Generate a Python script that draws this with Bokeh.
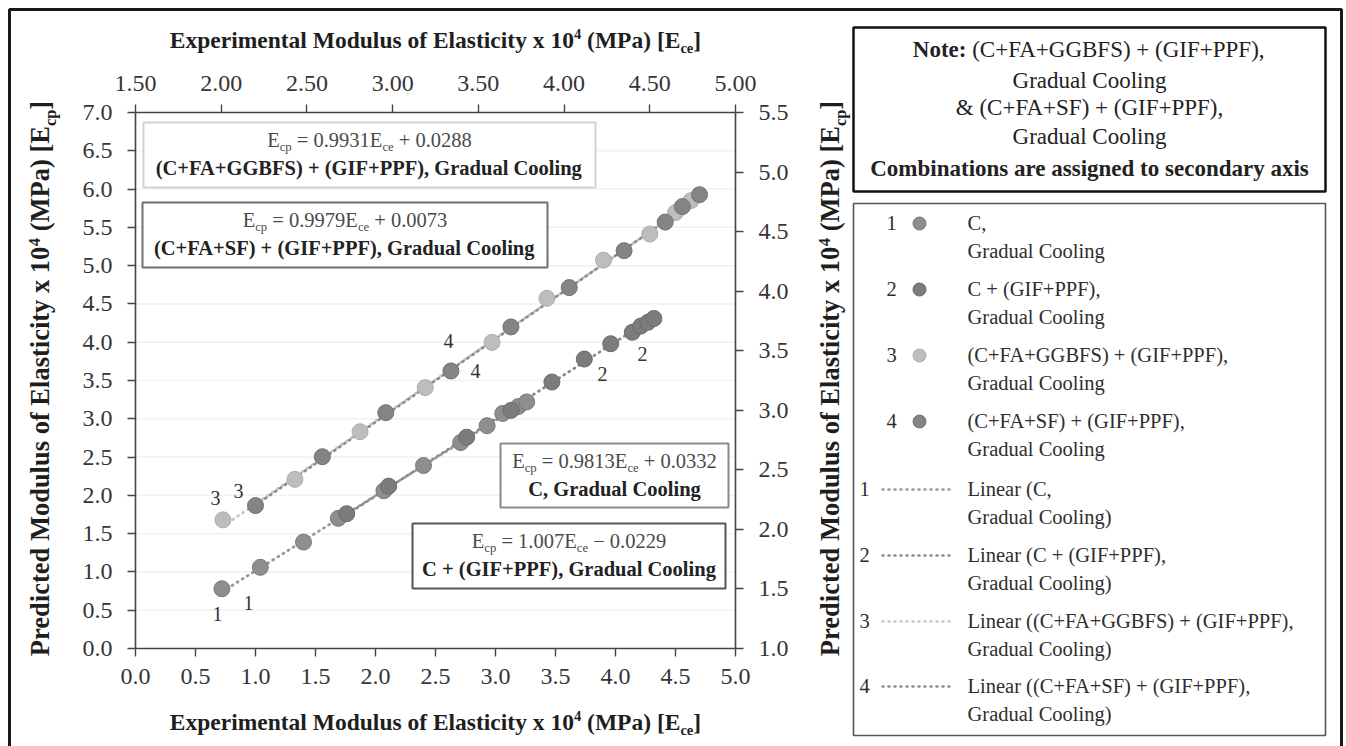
import numpy as np
from bokeh.plotting import figure
from bokeh.models import Range1d, LinearAxis, Label, FixedTicker, NumeralTickFormatter
from bokeh.embed import file_html
from bokeh.resources import INLINE
from bokeh.core.properties import value

# ---------------- data ----------------
# Series 1 & 2 : primary axes (bottom x 0-5, left y 0-7)
s1_x = [0.72, 1.04, 1.40, 1.69, 2.07, 2.40, 2.71, 2.93, 3.06, 3.19, 3.26]
s1_y = [0.78, 1.06, 1.39, 1.70, 2.06, 2.39, 2.69, 2.91, 3.07, 3.16, 3.22]
s2_x = [1.76, 2.11, 2.76, 3.13, 3.47, 3.74, 3.96, 4.14, 4.21, 4.27, 4.32]
s2_y = [1.76, 2.12, 2.76, 3.11, 3.48, 3.78, 3.98, 4.13, 4.21, 4.26, 4.31]
# Series 3 & 4 : secondary axes (top x 1.5-5.0, right y 1.0-5.5)
s3_x = [2.01, 2.43, 2.81, 3.19, 3.58, 3.90, 4.23, 4.50, 4.65, 4.74]
s3_y = [2.08, 2.42, 2.82, 3.19, 3.57, 3.94, 4.26, 4.48, 4.66, 4.76]
s4_x = [2.20, 2.59, 2.96, 3.34, 3.69, 4.03, 4.35, 4.59, 4.69, 4.79]
s4_y = [2.20, 2.61, 2.98, 3.33, 3.70, 4.03, 4.34, 4.58, 4.71, 4.81]

slopes = [0.9813, 1.007, 0.9931, 0.9979]
intercepts = [0.0332, -0.0229, 0.0288, 0.0073]

series_labels = ["C,", "C + (GIF+PPF),", "(C+FA+GGBFS) + (GIF+PPF),", "(C+FA+SF) + (GIF+PPF),"]
box_titles = ["C, Gradual Cooling", "C + (GIF+PPF), Gradual Cooling",
              "(C+FA+GGBFS) + (GIF+PPF), Gradual Cooling", "(C+FA+SF) + (GIF+PPF), Gradual Cooling"]
trend_labels = ["Linear (C,", "Linear (C + (GIF+PPF),", "Linear ((C+FA+GGBFS) + (GIF+PPF),",
                "Linear ((C+FA+SF) + (GIF+PPF),"]
note_lines = ["(C+FA+GGBFS) + (GIF+PPF),", "Gradual Cooling", "& (C+FA+SF) + (GIF+PPF),",
              "Gradual Cooling", "Combinations are assigned to secondary axis"]

bottom_ticks = [0.0, 0.5, 1.0, 1.5, 2.0, 2.5, 3.0, 3.5, 4.0, 4.5, 5.0]
top_ticks = [1.5, 2.0, 2.5, 3.0, 3.5, 4.0, 4.5, 5.0]
left_ticks = [0.0, 0.5, 1.0, 1.5, 2.0, 2.5, 3.0, 3.5, 4.0, 4.5, 5.0, 5.5, 6.0, 6.5, 7.0]
right_ticks = [1.0, 1.5, 2.0, 2.5, 3.0, 3.5, 4.0, 4.5, 5.0, 5.5]

# ---------------- styles ----------------
FONT = "Liberation Serif"
marker_colors = ["#8e8e8e", "#7c7c7c", "#bdbdbd", "#848484"]
marker_lines = ["#7a7a7a", "#6a6a6a", "#adadad", "#727272"]
trend_colors = ["#9a9a9a", "#8a8a8a", "#c6c6c6", "#8c8c8c"]
box_borders = ["#8a8a8a", "#555555", "#d2d2d2", "#707070"]

# Times metrics (Liberation Serif is metric compatible)
TR = {' ': 250, '(': 333, ')': 333, '+': 564, ',': 250, '-': 333, '.': 250, ':': 278, '=': 564,
      '[': 333, ']': 333, '&': 778, '\u2212': 564,
      'A': 722, 'B': 667, 'C': 667, 'D': 722, 'E': 611, 'F': 556, 'G': 722, 'H': 722, 'I': 333,
      'L': 611, 'M': 889, 'N': 722, 'O': 722, 'P': 556, 'S': 556, 'T': 611,
      'a': 444, 'b': 500, 'c': 444, 'd': 500, 'e': 444, 'f': 333, 'g': 500, 'h': 500, 'i': 278,
      'l': 278, 'm': 778, 'n': 500, 'o': 500, 'p': 500, 'r': 333, 's': 389, 't': 278, 'u': 500,
      'x': 500, 'y': 500}
TB = {' ': 250, '(': 333, ')': 333, '+': 570, ',': 250, '-': 333, '.': 250, ':': 333, '=': 570,
      '[': 333, ']': 333, '&': 833,
      'A': 722, 'B': 667, 'C': 722, 'D': 722, 'E': 667, 'F': 611, 'G': 778, 'H': 778, 'I': 389,
      'L': 667, 'M': 944, 'N': 722, 'O': 778, 'P': 611, 'S': 556, 'T': 667,
      'a': 500, 'b': 556, 'c': 444, 'd': 556, 'e': 444, 'f': 333, 'g': 500, 'h': 556, 'i': 278,
      'l': 278, 'm': 833, 'n': 556, 'o': 500, 'p': 556, 'r': 444, 's': 389, 't': 333, 'u': 556,
      'x': 500, 'y': 500}


def tw(s, bold, size):
    tab = TB if bold else TR
    return sum(tab.get(ch, 500) for ch in s) / 1000.0 * size


# ---------------- canvas / scales ----------------
W, H = 1346, 746
FL, FR, FT, FB = 135, 735, 112, 648        # pixel box of the chart area
XMIN, XMAX, YMIN, YMAX = 0.0, 5.0, 0.0, 7.0
X2MIN, X2MAX, Y2MIN, Y2MAX = 1.5, 5.0, 1.0, 5.5
KB = 0.38   # baseline correction (em) for alphabetic labels


def X(px):
    return (px - FL) / (FR - FL) * (XMAX - XMIN) + XMIN


def Y(py):
    return (FB - py) / (FB - FT) * (YMAX - YMIN) + YMIN


def X2(px):
    return (px - FL) / (FR - FL) * (X2MAX - X2MIN) + X2MIN


def Y2(py):
    return (FB - py) / (FB - FT) * (Y2MAX - Y2MIN) + Y2MIN


p = figure(width=W, height=H, x_range=Range1d(X(0), X(W)), y_range=Range1d(Y(H), Y(0)),
           min_border=0, output_backend="svg", toolbar_location=None,
           background_fill_color="white", border_fill_color="white", outline_line_color=None)
p.extra_x_ranges = {"sec": Range1d(X2(0), X2(W))}
p.extra_y_ranges = {"sec": Range1d(Y2(H), Y2(0))}
p.grid.visible = False


def style_axis(ax, ticks, fmt, standoff):
    ax.ticker = FixedTicker(ticks=ticks)
    ax.formatter = NumeralTickFormatter(format=fmt)
    ax.major_label_text_font = FONT
    ax.major_label_text_font_size = "24px"
    ax.major_label_text_color = "#363636"
    ax.major_label_standoff = standoff
    ax.axis_line_color = "#444444"
    ax.axis_line_width = 1.6
    ax.major_tick_line_color = "#444444"
    ax.major_tick_line_width = 1.4
    ax.major_tick_out = 8
    ax.major_tick_in = 0
    ax.minor_tick_out = 0
    ax.minor_tick_in = 0


ax_b = p.xaxis[0]
style_axis(ax_b, bottom_ticks, "0.0", 12)
ax_b.fixed_location = YMIN
ax_b.bounds = (XMIN, XMAX)
ax_l = p.yaxis[0]
style_axis(ax_l, left_ticks, "0.0", 15)
ax_l.fixed_location = XMIN
ax_l.bounds = (YMIN, YMAX)
ax_top = LinearAxis(x_range_name="sec", fixed_location=YMAX, bounds=(X2MIN, X2MAX))
style_axis(ax_top, top_ticks, "0.00", 14)
p.add_layout(ax_top, "above")
ax_right = LinearAxis(y_range_name="sec", fixed_location=XMAX, bounds=(Y2MIN, Y2MAX))
style_axis(ax_right, right_ticks, "0.0", 15)
p.add_layout(ax_right, "right")

# faint horizontal gridlines
gy = [t for t in left_ticks if YMIN < t < YMAX]
p.segment(x0=[XMIN] * len(gy), x1=[XMAX] * len(gy), y0=gy, y1=gy, line_color="#f1f1f1", line_width=1.5)

# outer border (picture frame)
p.line(x=[X(9), X(9), X(1341), X(1341)], y=[Y(760), Y(9), Y(9), Y(760)], line_color="#1a1a1a",
       line_width=3)

# trendlines and points
xs_all = [s1_x, s2_x, s3_x, s4_x]
ys_all = [s1_y, s2_y, s3_y, s4_y]
for i in range(4):
    kw = {} if i < 2 else {"x_range_name": "sec", "y_range_name": "sec"}
    tx = [min(xs_all[i]), max(xs_all[i])]
    ty = [slopes[i] * v + intercepts[i] for v in tx]
    p.line(tx, ty, line_color=trend_colors[i], line_width=2.8, line_dash="1 5", line_cap="round", **kw)
for i in range(4):
    kw = {} if i < 2 else {"x_range_name": "sec", "y_range_name": "sec"}
    p.scatter(xs_all[i], ys_all[i], size=16, fill_color=marker_colors[i], line_color=marker_lines[i],
              line_width=1, **kw)


def add_label(px, py, text, size, bold, color, angle=0.0, align="left", baseline="alphabetic"):
    if baseline == "alphabetic":
        if angle:
            px -= KB * size
        else:
            py -= KB * size
    p.add_layout(Label(x=X(px), y=Y(py), text=text, text_font=FONT, angle=angle,
                       text_font_size=f"{size:.2f}px", text_font_style="bold" if bold else "normal",
                       text_color=color, text_align=align, text_baseline=baseline))


def rich(segs, size, color, c, base, rotated=False):
    widths = [tw(t, b, size * sc) for t, b, sc, sh in segs]
    total = sum(widths)
    pos = c - total / 2 if not rotated else c + total / 2
    for (t, b, sc, sh), w in zip(segs, widths):
        lead = tw(t[:len(t) - len(t.lstrip(' '))], b, size * sc)
        txt = t.strip(' ')
        if not rotated:
            add_label(pos + lead, base + sh * size, txt, size * sc, b, color)
            pos += w
        else:
            add_label(base + sh * size, pos - lead, txt, size * sc, b, color, angle=np.pi / 2)
            pos -= w


SUB = 0.22
SUP = -0.38


def title_segs(word, sub):
    return [(word + " Modulus of Elasticity x 10", True, 1, 0), ("4", True, 0.62, SUP),
            (" (MPa) [E", True, 1, 0), (sub, True, 0.62, SUB), ("]", True, 1, 0)]


rich(title_segs("Experimental", "ce"), 23.5, "#1e1e1e", (FL + FR) / 2, 48)
rich(title_segs("Experimental", "ce"), 23.5, "#1e1e1e", (FL + FR) / 2, 730)
rich(title_segs("Predicted", "cp"), 26.5, "#1e1e1e", 378, 50, rotated=True)
rich(title_segs("Predicted", "cp"), 26.5, "#1e1e1e", 378, 840, rotated=True)

# equation boxes: (left, top, right, bottom) in px
boxes = [(500, 443, 728, 507), (412, 523, 725, 588), (143, 122, 595, 187), (142, 202, 547, 267)]
for i in range(4):
    l, t, r, b = boxes[i]
    p.quad(left=[X(l)], right=[X(r)], top=[Y(t)], bottom=[Y(b)], fill_color="white",
           line_color=box_borders[i], line_width=2)
    sign = "+" if intercepts[i] >= 0 else "\u2212"
    segs = [("E", False, 1, 0), ("cp", False, 0.62, SUB),
            (f" = {slopes[i]}E", False, 1, 0), ("ce", False, 0.62, SUB),
            (f" {sign} {abs(intercepts[i]):.4f}", False, 1, 0)]
    cx = (l + r) / 2
    rich(segs, 20.5, "#4a4a4a", cx, t + 25)
    rich([(box_titles[i], True, 1, 0)], 20.5, "#222222", cx, t + 53)

# series number tags inside the chart
tags = [("1", 217, 613), ("1", 248, 602), ("3", 215, 497), ("3", 238, 490),
        ("4", 448, 340), ("4", 475, 370), ("2", 602, 373), ("2", 642, 353)]
for t, px, py in tags:
    add_label(px, py, t, 20, False, "#333333", align="center", baseline="middle")

# ---------------- right side: note box + legend ----------------
BL, BR = 853, 1325
p.quad(left=[X(BL)], right=[X(BR)], top=[Y(27)], bottom=[Y(191)], fill_color="white",
       line_color="#111111", line_width=2.5)
p.quad(left=[X(BL)], right=[X(BR)], top=[Y(203)], bottom=[Y(735)], fill_color="white",
       line_color="#555555", line_width=1.6)

NS = 23
ncx = (BL + BR) / 2
w_b = tw("Note: ", True, NS)
w_r = tw(note_lines[0], False, NS)
x0 = ncx - (w_b + w_r) / 2
add_label(x0, 58, "Note:", NS, True, "#222222")
add_label(x0 + w_b, 58, note_lines[0], NS, False, "#222222")
for txt, by in zip(note_lines[1:4], [89, 116, 145]):
    add_label(ncx, by, txt, NS, False, "#222222", align="center")
add_label(ncx, 177, note_lines[4], NS, True, "#222222", align="center")

LS = 20.5
m_base = [230, 296, 362, 428]
l_base = [496, 562, 628, 693]
TXT_X = 967
for i in range(4):
    b = m_base[i]
    add_label(891, b, str(i + 1), LS, False, "#2e2e2e", align="center")
    p.scatter(x=[X(919)], y=[Y(b - 7)], size=13, fill_color=marker_colors[i], line_color=marker_lines[i])
    add_label(TXT_X, b, series_labels[i], LS, False, "#2e2e2e")
    add_label(TXT_X, b + 28, "Gradual Cooling", LS, False, "#2e2e2e")
for i in range(4):
    b = l_base[i]
    add_label(864, b, str(i + 1), LS, False, "#2e2e2e", align="center")
    p.line(x=[X(882), X(953)], y=[Y(b - 7), Y(b - 7)], line_color=trend_colors[i], line_width=2.6,
           line_dash="1 5", line_cap="round")
    add_label(TXT_X, b, trend_labels[i], LS, False, "#2e2e2e")
    add_label(TXT_X, b + 28, "Gradual Cooling)", LS, False, "#2e2e2e")

open("out.html", "w").write(file_html(p, INLINE))
